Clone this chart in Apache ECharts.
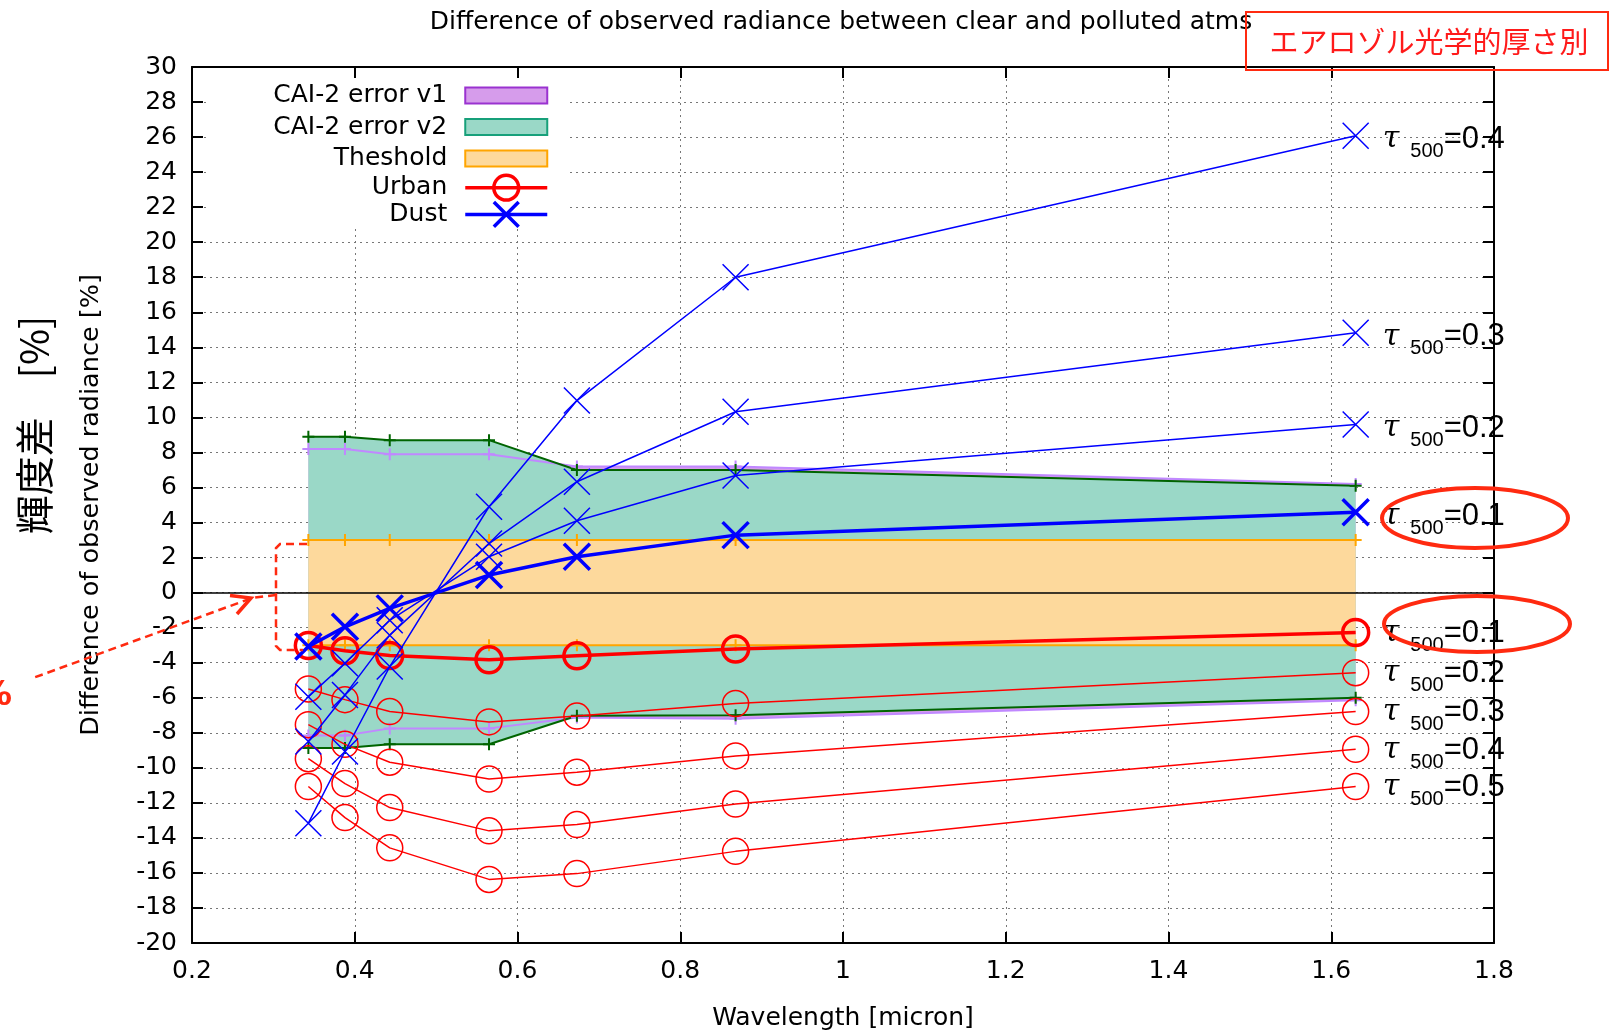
<!DOCTYPE html>
<html><head><meta charset="utf-8">
<script src="https://cdn.jsdelivr.net/npm/echarts@6/dist/echarts.min.js"></script>
<style>html,body{margin:0;padding:0;background:#fff}#c{width:1610px;height:1031px}</style>
</head><body><div id="c"></div>
<script>
// ---- data ----
const wavelengths = [0.343, 0.388, 0.443, 0.565, 0.673, 0.868, 1.63];
const cai2V1Upper = [8.2, 8.2, 7.9, 7.9, 7.2, 7.2, 6.2];
const cai2V1Lower = [-8.15, -8.15, -7.75, -7.75, -7.13, -7.2, -6.15];
const cai2V2Upper = [8.9, 8.9, 8.7, 8.7, 7.0, 7.0, 6.1];
const cai2V2Lower = [-8.87, -8.87, -8.66, -8.66, -7.03, -7.0, -6.0];
const thresholdUpper = [3, 3, 3, 3, 3, 3, 3];
const thresholdLower = [-3, -3, -3, -3, -3, -3, -3];

const urbanTau01 = [-3.02, -3.32, -3.59, -3.83, -3.61, -3.22, -2.28];
const urbanTau02 = [-5.5, -6.11, -6.79, -7.38, -7.05, -6.33, -4.57];
const urbanTau03 = [-7.54, -8.66, -9.68, -10.64, -10.25, -9.32, -6.79];
const urbanTau04 = [-9.48, -10.9, -12.27, -13.6, -13.24, -12.07, -8.94];
const urbanTau05 = [-11.07, -12.84, -14.57, -16.37, -16.04, -14.77, -11.07];

const dustTau01 = [-3.08, -1.95, -0.9, 1.0, 2.05, 3.28, 4.59];
const dustTau02 = [-5.94, -4.03, -1.58, 2.05, 4.1, 6.68, 9.6];
const dustTau03 = [-8.5, -5.84, -2.43, 2.8, 6.33, 10.32, 14.83];
const dustTau04 = [-13.16, -9.07, -4.22, 4.9, 10.96, 18.0, 26.08];

const urbanTaus = ['0.1', '0.2', '0.3', '0.4', '0.5'];
const dustTaus = ['0.1', '0.2', '0.3', '0.4'];
const legendNames = ['CAI-2 error v1', 'CAI-2 error v2', 'Theshold', 'Urban', 'Dust'];

// ---- styles ----
const FONT = 'DejaVu Sans';
const LFONT = 'Liberation Sans';
const purpleFill = '#d69ceb', purpleLine = '#c088ff', purpleBorder = '#9a32d0';
const greenFill = '#9ad8c7', greenLine = '#006400', greenBorder = '#17a07a';
const orangeFill = '#fdd99c', orangeLine = '#ffa500';
const annRed = '#ff2a10';
const plusSym = 'path://M5,0L5,10M0,5L10,5';
const crossSym = 'path://M0,0L10,10M10,0L0,10';
const rectIcon = 'path://M0,0L0,0M0,7.5L82,7.5L82,23.5L0,23.5ZM0,31L0,31';

const pts = vals => wavelengths.map((w, i) => [w, vals[i]]);

function areaSeries(name, vals, color, z) {
  return {
    type: 'line', name, z, silent: true, data: pts(vals),
    symbol: 'none', lineStyle: { width: 0, opacity: 0 },
    itemStyle: { color },
    areaStyle: { color, opacity: 1, origin: 0 }
  };
}
function edgeSeries(name, vals, color, extra) {
  return Object.assign({
    type: 'line', name, z: 4, silent: true, data: pts(vals),
    symbol: plusSym, symbolSize: 12,
    lineStyle: { color, width: 2 },
    itemStyle: { color, borderColor: color, borderWidth: 2 }
  }, extra || {});
}
function obsSeries(name, vals, tau, color, thick, symbol, fill, z, dy) {
  return {
    type: 'line', name, z, silent: true, data: pts(vals),
    symbol, symbolSize: 26, showSymbol: true,
    lineStyle: { color, width: thick ? 3.5 : 1.5 },
    itemStyle: { color: fill, borderColor: color, borderWidth: thick ? 3.5 : 1.5 },
    endLabel: {
      show: true, distance: 27, offset: [0, dy], color: '#000',
      formatter: () => '{t|τ}{s|500}{v|=' + tau + '}',
      rich: {
        t: { fontSize: 30, fontStyle: 'italic', fontFamily: 'DejaVu Serif', lineHeight: 44, color: '#000' },
        s: { fontSize: 20, fontFamily: LFONT, lineHeight: 20, verticalAlign: 'bottom', padding: [0, 0, 0, 11], color: '#000' },
        v: { fontSize: 31, fontFamily: LFONT, lineHeight: 44, color: '#000' }
      }
    }
  };
}

const urbanSets = [urbanTau01, urbanTau02, urbanTau03, urbanTau04, urbanTau05];
const dustSets = [dustTau01, dustTau02, dustTau03, dustTau04];

const series = [
  areaSeries('CAI-2 error v1', cai2V1Upper, purpleFill, 1),
  areaSeries('CAI-2 error v1', cai2V1Lower, purpleFill, 1),
  areaSeries('CAI-2 error v2', cai2V2Upper, greenFill, 2),
  areaSeries('CAI-2 error v2', cai2V2Lower, greenFill, 2),
  areaSeries('Theshold', thresholdUpper, orangeFill, 3),
  areaSeries('Theshold', thresholdLower, orangeFill, 3),
  edgeSeries('CAI-2 error v1', cai2V1Upper, purpleLine),
  edgeSeries('CAI-2 error v1', cai2V1Lower, purpleLine),
  edgeSeries('CAI-2 error v2', cai2V2Upper, greenLine),
  edgeSeries('CAI-2 error v2', cai2V2Lower, greenLine),
  edgeSeries('Theshold', thresholdUpper, orangeLine, {
    markLine: {
      silent: true, symbol: 'none', label: { show: false },
      lineStyle: { color: '#000', width: 1.5, type: 'solid' },
      data: [{ yAxis: 0 }]
    }
  }),
  edgeSeries('Theshold', thresholdLower, orangeLine)
];
urbanSets.forEach((v, i) => series.push(obsSeries('Urban', v, urbanTaus[i], '#ff0000', i === 0, 'circle', 'rgba(255,255,255,0)', 6, 1)));
dustSets.forEach((v, i) => series.push(obsSeries('Dust', v, dustTaus[i], '#0000ff', i === 0, crossSym, '#0000ff', 7, 4)));

const gridDots = { show: true, lineStyle: { color: '#777', width: 1, type: [2, 4] } };
const tickIn = { show: true, inside: true, length: 11, lineStyle: { color: '#000', width: 2 } };
const axLine = { show: true, onZero: false, lineStyle: { color: '#000', width: 2 } };
const tickLabel = { fontSize: 25, fontFamily: FONT, color: '#000' };

const option = {
  animation: false,
  backgroundColor: '#fff',
  title: {
    text: 'Difference of observed radiance between clear and polluted atms',
    left: 836, top: 5, textAlign: 'center',
    textStyle: { fontSize: 25, fontFamily: FONT, fontWeight: 'normal', color: '#000' }
  },
  grid: { left: 192, right: 116, top: 67, bottom: 88, outerBoundsMode: 'none', containLabel: false },
  legend: {
    orient: 'vertical', align: 'right', right: 1044, top: 78,
    itemWidth: 82, itemHeight: 31, itemGap: -1.5,
    padding: [1, 17, 0, 64], backgroundColor: '#fff',
    selectedMode: false,
    textStyle: { fontSize: 25, fontFamily: FONT, color: '#000', padding: [0, 13, 0, 0] },
    data: [
      { name: legendNames[0], icon: rectIcon, itemStyle: { color: purpleFill, borderColor: purpleBorder, borderWidth: 2 } },
      { name: legendNames[1], icon: rectIcon, itemStyle: { color: greenFill, borderColor: greenBorder, borderWidth: 2 } },
      { name: legendNames[2], icon: rectIcon, itemStyle: { color: orangeFill, borderColor: orangeLine, borderWidth: 2 } },
      { name: legendNames[3], itemStyle: { borderWidth: 3.5 }, lineStyle: { width: 3.5 } },
      { name: legendNames[4], itemStyle: { borderWidth: 3.5 }, lineStyle: { width: 3.5 } }
    ]
  },
  xAxis: [
    {
      type: 'value', position: 'bottom', min: 0.2, max: 1.8, interval: 0.2,
      axisLine: axLine, axisTick: tickIn, splitLine: gridDots,
      axisLabel: Object.assign({ margin: 16 }, tickLabel),
      name: 'Wavelength [micron]', nameLocation: 'middle', nameGap: 63,
      nameTextStyle: { fontSize: 25, fontFamily: FONT, color: '#000' }
    },
    {
      type: 'value', position: 'top', min: 0.2, max: 1.8, interval: 0.2,
      axisLine: axLine, axisTick: tickIn, splitLine: { show: false }, axisLabel: { show: false }
    }
  ],
  yAxis: [
    {
      type: 'value', position: 'left', min: -20, max: 30, interval: 2,
      axisLine: axLine, axisTick: tickIn, splitLine: gridDots,
      axisLabel: Object.assign({ margin: 15 }, tickLabel),
      name: 'Difference of observed radiance [%]', nameLocation: 'middle', nameRotate: 90, nameGap: 88,
      nameTextStyle: { fontSize: 25.5, fontFamily: FONT, color: '#000' }
    },
    {
      type: 'value', position: 'right', min: -20, max: 30, interval: 2,
      axisLine: axLine, axisTick: tickIn, splitLine: { show: false }, axisLabel: { show: false }
    }
  ],
  series,
  graphic: [
    { type: 'text', rotation: Math.PI / 2, x: 34, y: 425,
      style: { text: '輝度差　[%]', font: '39px "Noto Sans CJK JP"', fill: '#000', align: 'center', verticalAlign: 'middle' } },
    { type: 'rect', shape: { x: 1246, y: 12, width: 362, height: 58 },
      style: { fill: 'none', stroke: annRed, lineWidth: 2 }, z: 100 },
    { type: 'text', x: 1429, y: 42, z: 100,
      style: { text: 'エアロゾル光学的厚さ別', font: '29px "Noto Sans CJK JP"', fill: '#ff1a1a', align: 'center', verticalAlign: 'middle' } },
    { type: 'ellipse', shape: { cx: 1475, cy: 518, rx: 93, ry: 30 }, z: 100,
      style: { fill: 'none', stroke: annRed, lineWidth: 4 } },
    { type: 'ellipse', shape: { cx: 1477, cy: 624, rx: 93, ry: 28 }, z: 100,
      style: { fill: 'none', stroke: annRed, lineWidth: 4 } },
    { type: 'polyline', z: 100, shape: { points: [[307, 544], [280, 544], [276, 548], [276, 646], [280, 650], [303, 650]] },
      style: { fill: 'none', stroke: annRed, lineWidth: 2.5, lineDash: [8, 5] } },
    { type: 'polyline', z: 100, shape: { points: [[276, 595], [252, 598], [33, 678]] },
      style: { fill: 'none', stroke: annRed, lineWidth: 2.5, lineDash: [8, 5] } },
    { type: 'polyline', z: 100, shape: { points: [[230, 595.5], [251, 598], [237, 614]] },
      style: { fill: 'none', stroke: annRed, lineWidth: 3.5 } },
    { type: 'text', x: 12, y: 696, z: 100,
      style: { text: '%', font: 'bold 34px "DejaVu Sans"', fill: annRed, align: 'right', verticalAlign: 'middle' } }
  ]
};

const chart = echarts.init(document.getElementById('c'), null, { renderer: 'canvas' });
chart.setOption(option);
</script></body></html>
